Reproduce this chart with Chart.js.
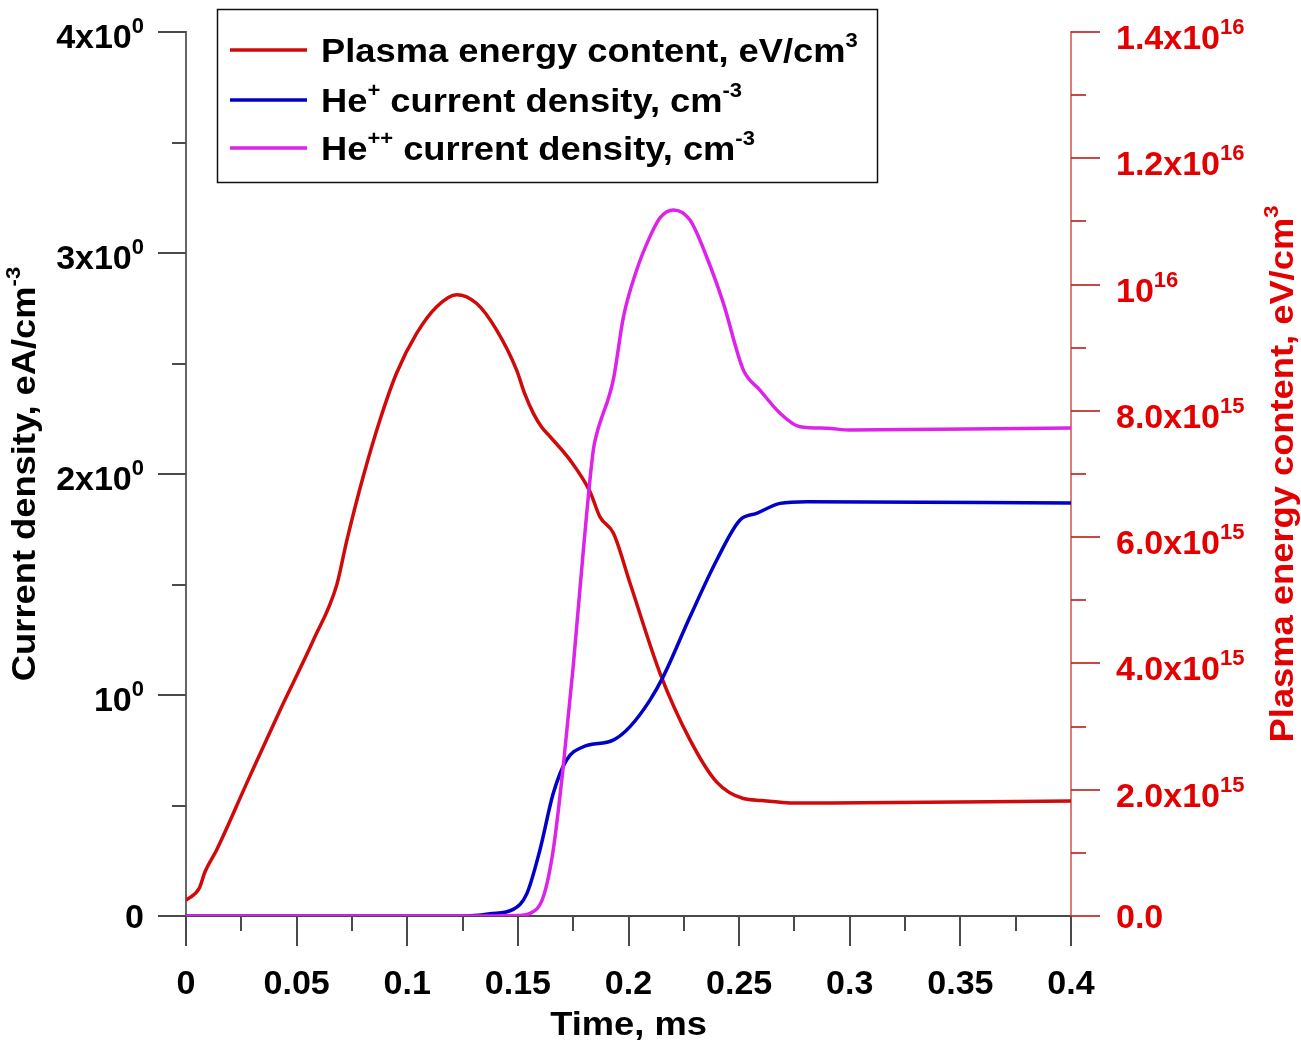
<!DOCTYPE html>
<html>
<head>
<meta charset="utf-8">
<title>Plasma energy content and He ion current density</title>
<script src="https://cdn.jsdelivr.net/npm/chart.js@4.4.0/dist/chart.umd.min.js"></script>
<style>
  html, body { margin: 0; padding: 0; background: #fff; }
  canvas { display: block; }
</style>
</head>
<body>
<canvas id="chart" width="1301" height="1042"></canvas>
<script>
// Plasma energy content, eV/cm^3 (right axis)
const tEnergy = [0, 0.006, 0.0086, 0.0139, 0.0274, 0.0425, 0.0576, 0.0681, 0.0727, 0.0801,
                 0.0877, 0.0952, 0.1043, 0.1133, 0.1223, 0.1314, 0.1404, 0.1494, 0.153, 0.157,
                 0.1608, 0.1646, 0.1736, 0.1826, 0.1871, 0.1932, 0.2007, 0.2143, 0.2278, 0.2399,
                 0.2519, 0.2604, 0.273, 0.2911, 0.4];
const energy = [0.25e15, 0.44e15, 0.70e15, 1.05e15, 2.10e15, 3.26e15, 4.37e15, 5.24e15, 5.95e15, 6.96e15,
                7.86e15, 8.60e15, 9.23e15, 9.65e15, 9.84e15, 9.70e15, 9.28e15, 8.65e15, 8.28e15, 7.96e15,
                7.74e15, 7.59e15, 7.22e15, 6.72e15, 6.32e15, 6.06e15, 5.27e15, 3.84e15, 2.79e15, 2.12e15,
                1.86e15, 1.83e15, 1.79e15, 1.79e15, 1.82e15];

// He+ current density (left axis)
const tHe1 = [0, 0.125, 0.132, 0.1374, 0.1479, 0.154, 0.160, 0.166, 0.172, 0.1796,
              0.1931, 0.2007, 0.2097, 0.2157, 0.2278, 0.2399, 0.2504, 0.2579, 0.2685, 0.2805, 0.4];
const jHe1 = [0, 0, 0.003, 0.010, 0.03, 0.10, 0.30, 0.555, 0.706, 0.766,
              0.796, 0.857, 0.977, 1.083, 1.354, 1.611, 1.792, 1.822, 1.867, 1.875, 1.869];

// He++ current density (left axis)
const tHe2 = [0, 0.14, 0.150, 0.1555, 0.1615, 0.166, 0.1705, 0.175, 0.1796, 0.1841,
              0.1856, 0.1931, 0.1977, 0.2037, 0.2097, 0.2143, 0.2203, 0.2278, 0.2353, 0.2429,
              0.2519, 0.2594, 0.2685, 0.2775, 0.2896, 0.30, 0.4];
const jHe2 = [0, 0, 0.002, 0.012, 0.087, 0.30, 0.676, 1.128, 1.656, 2.109,
              2.18, 2.425, 2.71, 2.923, 3.074, 3.16, 3.195, 3.149, 2.983, 2.772,
              2.471, 2.38, 2.275, 2.214, 2.207, 2.199, 2.208];

// Axis ticks and labels ("^{..}" marks a superscript)
const xTicks = [0, 0.05, 0.1, 0.15, 0.2, 0.25, 0.3, 0.35, 0.4];
const xTickLabels = ['0', '0.05', '0.1', '0.15', '0.2', '0.25', '0.3', '0.35', '0.4'];
const yTicks = [0, 1, 2, 3, 4];
const yTickLabels = ['0', '10^{0}', '2x10^{0}', '3x10^{0}', '4x10^{0}'];
const y2Ticks = [0, 2e15, 4e15, 6e15, 8e15, 1e16, 1.2e16, 1.4e16];
const y2TickLabels = ['0.0', '2.0x10^{15}', '4.0x10^{15}', '6.0x10^{15}', '8.0x10^{15}',
                      '10^{16}', '1.2x10^{16}', '1.4x10^{16}'];

const seriesLabels = ['Plasma energy content, eV/cm^{3}',
                      'He^{+} current density, cm^{-3}',
                      'He^{++} current density, cm^{-3}'];
const xTitle = 'Time, ms';
const yTitle = 'Current density, eA/cm^{-3}';
const y2Title = 'Plasma energy content, eV/cm^{3}';

const RED = '#d00a0a';
const BLUE = '#0000c8';
const MAGENTA = '#dd22ea';
const AXIS_RED = 'rgb(228, 0, 0)';
const FONT = '"Liberation Sans", Arial, sans-serif';
const TICK_FONT = { size: 34, supSize: 22, raise: 15 };

function toPoints(ts, vs) {
    return ts.map((t, i) => ({ x: t, y: vs[i] }));
}

function midpoints(arr) {
    const out = [];
    for (let i = 0; i < arr.length - 1; i++) out.push((arr[i] + arr[i + 1]) / 2);
    return out;
}

function parseRich(text) {
    const parts = [];
    const re = /\^\{([^}]*)\}/g;
    let last = 0, m;
    while ((m = re.exec(text)) !== null) {
        if (m.index > last) parts.push({ t: text.slice(last, m.index), sup: false });
        parts.push({ t: m[1], sup: true });
        last = re.lastIndex;
    }
    if (last < text.length) parts.push({ t: text.slice(last), sup: false });
    return parts;
}

// draws text with superscripts; baseline at y
function drawRich(ctx, text, x, y, align, opts) {
    const size = opts.size || 33;
    const supSize = opts.supSize || 20;
    const stretch = opts.stretch || 1;
    const raise = opts.raise || 15;
    const baseFont = 'bold ' + size + 'px ' + FONT;
    const supFont = 'bold ' + supSize + 'px ' + FONT;
    const parts = parseRich(text);
    let total = 0;
    parts.forEach(p => {
        ctx.font = p.sup ? supFont : baseFont;
        p.w = ctx.measureText(p.t).width * stretch;
        total += p.w;
    });
    let cx = x;
    if (align === 'center') cx = x - total / 2;
    else if (align === 'right') cx = x - total;
    ctx.textAlign = 'left';
    ctx.textBaseline = 'alphabetic';
    parts.forEach(p => {
        ctx.save();
        ctx.font = p.sup ? supFont : baseFont;
        ctx.translate(cx, p.sup ? y - raise : y);
        ctx.scale(stretch, 1);
        ctx.fillText(p.t, 0, 0);
        ctx.restore();
        cx += p.w;
    });
}

const decorPlugin = {
    id: 'decor',
    afterDraw(chart) {
        const ctx = chart.ctx;
        const sx = chart.scales.x;
        const sy = chart.scales.y;
        const sy2 = chart.scales.y2;
        const area = chart.chartArea;
        ctx.save();

        // x axis ticks
        ctx.strokeStyle = '#4a4a4a';
        ctx.lineWidth = 2;
        ctx.beginPath();
        xTicks.forEach(v => {
            const px = Math.round(sx.getPixelForValue(v));
            ctx.moveTo(px, area.bottom); ctx.lineTo(px, area.bottom + 30);
        });
        midpoints(xTicks).forEach(v => {
            const px = Math.round(sx.getPixelForValue(v));
            ctx.moveTo(px, area.bottom); ctx.lineTo(px, area.bottom + 15);
        });
        ctx.stroke();

        // left axis ticks
        ctx.beginPath();
        yTicks.forEach(v => {
            const py = Math.round(sy.getPixelForValue(v));
            ctx.moveTo(area.left, py); ctx.lineTo(area.left - 28, py);
        });
        midpoints(yTicks).forEach(v => {
            const py = Math.round(sy.getPixelForValue(v));
            ctx.moveTo(area.left, py); ctx.lineTo(area.left - 14, py);
        });
        ctx.stroke();

        // right axis ticks
        ctx.strokeStyle = 'rgba(190, 40, 40, 0.85)';
        ctx.beginPath();
        y2Ticks.forEach(v => {
            const py = Math.round(sy2.getPixelForValue(v));
            ctx.moveTo(area.right, py); ctx.lineTo(area.right + 29, py);
        });
        midpoints(y2Ticks).forEach(v => {
            const py = Math.round(sy2.getPixelForValue(v));
            ctx.moveTo(area.right, py); ctx.lineTo(area.right + 15, py);
        });
        ctx.stroke();

        // tick labels
        ctx.fillStyle = '#000';
        xTicks.forEach((v, i) => {
            drawRich(ctx, xTickLabels[i], sx.getPixelForValue(v), area.bottom + 78, 'center', TICK_FONT);
        });
        yTicks.forEach((v, i) => {
            const lab = yTickLabels[i];
            const off = lab.indexOf('^') >= 0 ? 16 : 12;
            drawRich(ctx, lab, 144, sy.getPixelForValue(v) + off, 'right', TICK_FONT);
        });
        ctx.fillStyle = AXIS_RED;
        y2Ticks.forEach((v, i) => {
            const lab = y2TickLabels[i];
            const off = lab.indexOf('^') >= 0 ? 17 : 12;
            drawRich(ctx, lab, area.right + 45, sy2.getPixelForValue(v) + off, 'left', TICK_FONT);
        });

        // axis titles
        const midY = (area.top + area.bottom) / 2;
        ctx.fillStyle = '#000';
        drawRich(ctx, xTitle, (area.left + area.right) / 2, 1035, 'center', { stretch: 1.1 });

        ctx.save();
        ctx.translate(35, midY);
        ctx.rotate(-Math.PI / 2);
        drawRich(ctx, yTitle, 0, 0, 'center', { stretch: 1.1 });
        ctx.restore();

        ctx.save();
        ctx.fillStyle = AXIS_RED;
        ctx.translate(1293, midY);
        ctx.rotate(-Math.PI / 2);
        drawRich(ctx, y2Title, 0, 0, 'center', { stretch: 1.1 });
        ctx.restore();

        // legend box
        ctx.fillStyle = '#fff';
        ctx.fillRect(217, 9, 661, 174);
        ctx.strokeStyle = '#111';
        ctx.lineWidth = 1.5;
        ctx.strokeRect(217.5, 9.5, 660, 173);
        const rowY = [50, 100, 148];
        chart.data.datasets.forEach((ds, i) => {
            ctx.strokeStyle = ds.borderColor;
            ctx.lineWidth = 3.5;
            ctx.beginPath();
            ctx.moveTo(230, rowY[i]);
            ctx.lineTo(307, rowY[i]);
            ctx.stroke();
            ctx.fillStyle = '#000';
            drawRich(ctx, seriesLabels[i], 321, rowY[i] + 12, 'left', { stretch: 1.1 });
        });

        ctx.restore();
    }
};

const ctx = document.getElementById('chart').getContext('2d');
const chart = new Chart(ctx, {
    type: 'scatter',
    data: {
        datasets: [
            {
                label: 'Plasma energy content, eV/cm³',
                data: toPoints(tEnergy, energy),
                yAxisID: 'y2',
                borderColor: RED,
                order: 3
            },
            {
                label: 'He⁺ current density, cm⁻³',
                data: toPoints(tHe1, jHe1),
                yAxisID: 'y',
                borderColor: BLUE,
                order: 2
            },
            {
                label: 'He⁺⁺ current density, cm⁻³',
                data: toPoints(tHe2, jHe2),
                yAxisID: 'y',
                borderColor: MAGENTA,
                order: 1
            }
        ]
    },
    options: {
        responsive: false,
        animation: false,
        devicePixelRatio: 1,
        layout: { padding: { top: 32, left: 0, right: 0, bottom: 0 } },
        datasets: {
            scatter: {
                showLine: true,
                borderWidth: 3.5,
                pointRadius: 0,
                cubicInterpolationMode: 'monotone'
            }
        },
        plugins: {
            legend: { display: false },
            tooltip: { enabled: false }
        },
        scales: {
            x: {
                type: 'linear',
                min: 0,
                max: 0.4,
                ticks: { display: false },
                grid: { display: true, drawOnChartArea: false, drawTicks: false },
                border: { display: true, color: '#4a4a4a', width: 2 },
                afterFit: s => { s.height = 126; }
            },
            y: {
                type: 'linear',
                position: 'left',
                min: 0,
                max: 4,
                ticks: { display: false },
                grid: { display: true, drawOnChartArea: false, drawTicks: false },
                border: { display: true, color: '#666', width: 2 },
                afterFit: s => { s.width = 186; }
            },
            y2: {
                type: 'linear',
                position: 'right',
                min: 0,
                max: 1.4e16,
                ticks: { display: false },
                grid: { display: true, drawOnChartArea: false, drawTicks: false },
                border: { display: true, color: 'rgba(205, 80, 80, 0.75)', width: 2 },
                afterFit: s => { s.width = 230; }
            }
        }
    },
    plugins: [decorPlugin]
});
</script>
</body>
</html>
